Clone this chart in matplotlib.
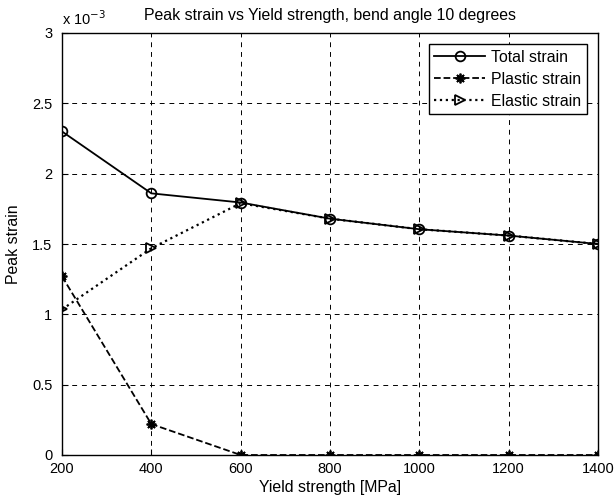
import matplotlib
matplotlib.use("Agg")
import matplotlib.pyplot as plt

plt.rcParams['font.family'] = ['Liberation Sans', 'DejaVu Sans']

# yield strength [MPa]
yield_strength = [200, 400, 600, 800, 1000, 1200, 1400]
# peak strains, in units of 1e-3
total_strain = [2.30, 1.86, 1.795, 1.68, 1.605, 1.56, 1.50]
plastic_strain = [1.27, 0.22, 0.0, 0.0, 0.0, 0.0, 0.0]
elastic_strain = [1.035, 1.47, 1.79, 1.68, 1.605, 1.56, 1.50]

x_ticks = [200, 400, 600, 800, 1000, 1200, 1400]
y_ticks = [0, 0.5, 1, 1.5, 2, 2.5, 3]
y_ticklabels = ["0", "0.5", "1", "1.5", "2", "2.5", "3"]

fig = plt.figure(figsize=(6.16, 5.03), dpi=100)
# axes box in pixels: left 62, right 598, top 33, bottom 455
ax = fig.add_axes([62 / 616, 1 - 455 / 503, 536 / 616, 422 / 503])

ax.plot(yield_strength, total_strain, '-', color='k', lw=1.3, marker='o',
        ms=7, mfc='none', mew=1.3, label='Total strain', zorder=3)
ax.plot(yield_strength, plastic_strain, '--', color='k', lw=1.3, marker=(8, 2, 0),
        ms=7, mew=1.3, label='Plastic strain', zorder=3)
ax.plot(yield_strength, elastic_strain, ':', color='k', lw=1.6, marker='>',
        ms=7, mfc='none', mew=1.3, label='Elastic strain', zorder=3)

ax.set_xlim(200, 1400)
ax.set_ylim(0, 3)
ax.set_xticks(x_ticks)
ax.set_yticks(y_ticks)
ax.set_yticklabels(y_ticklabels)
ax.tick_params(direction='in', length=4, labelsize=10.5, color='k')
ax.tick_params(axis='x', pad=5)
ax.tick_params(axis='y', pad=7)
ax.grid(True, color='k', linestyle=(0, (5, 5)), lw=0.7)
for sp in ax.spines.values():
    sp.set_linewidth(1.0)

ax.text(0.0, 1.012, r'x 10$^{-3}$', transform=ax.transAxes, fontsize=10.5,
        ha='left', va='bottom')
ax.set_title('Peak strain vs Yield strength, bend angle 10 degrees', fontsize=11.4, pad=9.5)
ax.set_xlabel('Yield strength [MPa]', fontsize=11.4, labelpad=3)
ax.set_ylabel('Peak strain', fontsize=11.4, labelpad=8)

leg = ax.legend(loc='upper right', fontsize=11.4, fancybox=False, framealpha=1,
                edgecolor='k', handlelength=3.2, borderaxespad=0.7,
                handletextpad=0.4, labelspacing=0.45, borderpad=0.35)
leg.get_frame().set_linewidth(1.0)

fig.savefig('out.png', dpi=100)
